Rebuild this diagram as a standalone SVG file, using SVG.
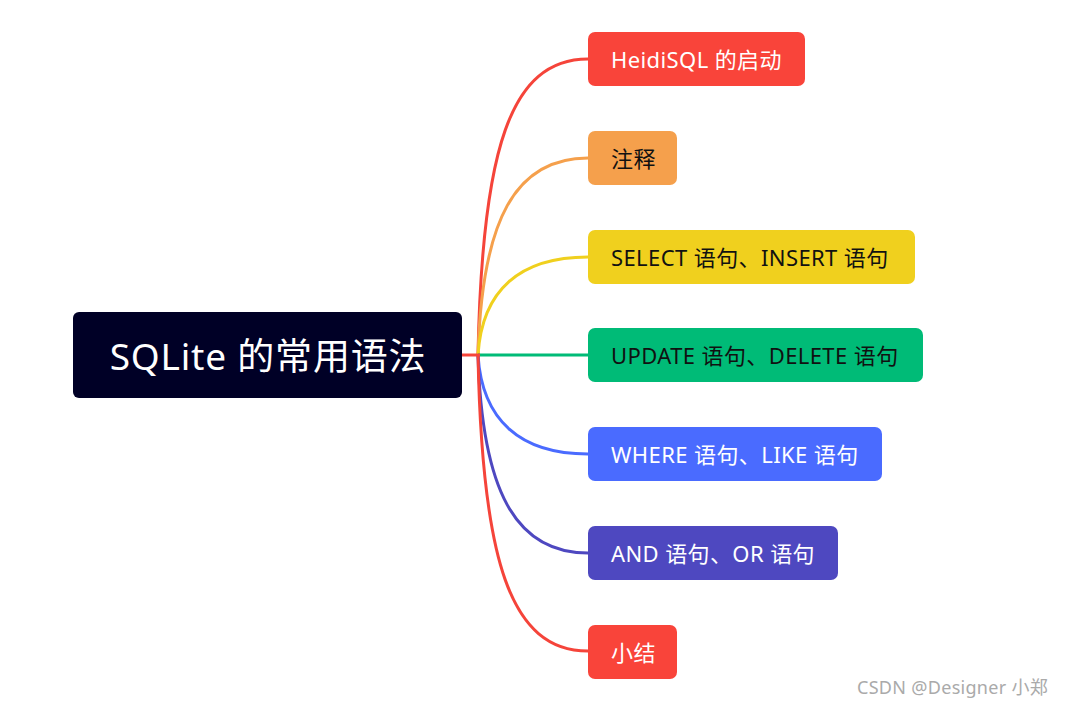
<svg xmlns="http://www.w3.org/2000/svg" width="1066" height="706" viewBox="0 0 1066 706">
<style>
.t{font-family:"Noto Sans","Noto Sans CJK SC",sans-serif;font-size:22px;letter-spacing:0.4px;dominant-baseline:central}
.w{fill:#fff}.b{fill:#111}
.c{fill:none;stroke-width:3}
</style>
<rect width="1066" height="706" fill="#fff"/>
<g id="connectors">
<path class="c" stroke="#f5443a" d="M478 355 C482 150 510 59 588 59"/>
<path class="c" stroke="#f5a04c" d="M478 355 C482 220 515 158 588 158"/>
<path class="c" stroke="#f0d01e" d="M478 355 C482 290 520 257 588 257"/>
<path class="c" stroke="#00bb77" d="M478 355 L588 355"/>
<path class="c" stroke="#4a6bff" d="M478 355 C482 420 520 454 588 454"/>
<path class="c" stroke="#4e48c0" d="M478 355 C482 490 515 553 588 553"/>
<path class="c" stroke="#f5443a" d="M478 355 C482 560 510 651 588 651"/>
<path class="c" stroke="#f5443a" d="M462 355 L480 355"/>
</g>
<g id="root"><rect x="73" y="312" width="389" height="86" rx="6" fill="#000026"/><text x="268" y="355" text-anchor="middle" class="t w" style="font-size:37px;letter-spacing:0.8px">SQLite 的常用语法</text></g>
<g id="n1"><rect x="588" y="32" width="217" height="54" rx="7" fill="#f9443a"/><text x="611" y="59" class="t w">HeidiSQL 的启动</text></g>
<g id="n2"><rect x="588" y="131" width="89" height="54" rx="7" fill="#f5a04c"/><text x="611" y="158" class="t b">注释</text></g>
<g id="n3"><rect x="588" y="230" width="327" height="54" rx="7" fill="#f0d01e"/><text x="611" y="257" class="t b">SELECT 语句、INSERT 语句</text></g>
<g id="n4"><rect x="588" y="328" width="335" height="54" rx="7" fill="#00bb77"/><text x="611" y="355" class="t b">UPDATE 语句、DELETE 语句</text></g>
<g id="n5"><rect x="588" y="427" width="294" height="54" rx="7" fill="#4a6bff"/><text x="611" y="454" class="t w">WHERE 语句、LIKE 语句</text></g>
<g id="n6"><rect x="588" y="526" width="250" height="54" rx="7" fill="#4e48c0"/><text x="611" y="553" class="t w">AND 语句、OR 语句</text></g>
<g id="n7"><rect x="588" y="625" width="89" height="54" rx="7" fill="#f9443a"/><text x="611" y="652" class="t w">小结</text></g>
<text x="857" y="687" class="t" style="font-size:18px;letter-spacing:0.3px;fill:#aaa">CSDN @Designer 小郑</text>
</svg>
